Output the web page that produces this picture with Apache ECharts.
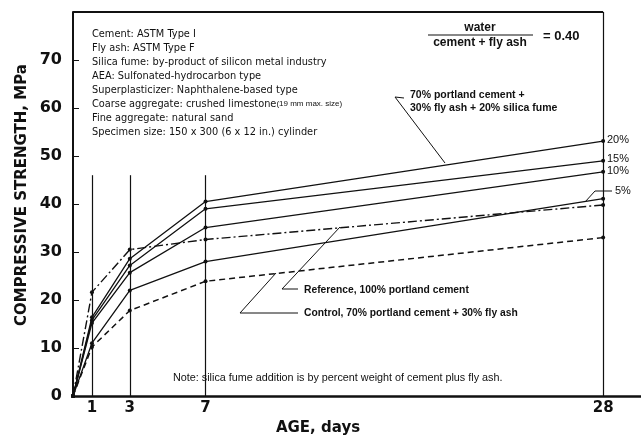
<!DOCTYPE html>
<html>
<head>
<meta charset="utf-8">
<script src="https://cdn.jsdelivr.net/npm/echarts@6/dist/echarts.min.js"></script>
<style>
  html, body { margin: 0; padding: 0; background: #fff; }
  #chart { width: 641px; height: 438px; }
</style>
</head>
<body>
<div id="chart"></div>
<script>
// age in days
const days = [0, 1, 3, 7, 28]

// compressive strength, MPa
const sf20 = [0, 16.4, 28.6, 40.5, 53.1]
const sf15 = [0, 15.8, 27.2, 39.0, 49.0]
const sf10 = [0, 15.2, 25.7, 35.1, 46.7]
const sf5 = [0, 11.0, 22.0, 28.0, 41.1]
const reference = [0, 21.6, 30.5, 32.6, 39.8]
const control = [0, 10.2, 17.8, 23.9, 33.0]

// axis labels
const dayTicks = [1, 3, 7, 28]
const guideDays = [1, 3, 7]
const guideTop = 46
const yMax = 80

const notes = [
  'Cement: ASTM Type I',
  'Fly ash: ASTM Type F',
  'Silica fume: by-product of silicon metal industry',
  'AEA: Sulfonated-hydrocarbon type',
  'Superplasticizer: Naphthalene-based type',
  '{a|Coarse aggregate: crushed limestone}{b|(19 mm max. size)}',
  'Fine aggregate: natural sand',
  'Specimen size: 150 x 300 (6 x 12 in.) cylinder'
]

const ink = '#111'
const pairs = arr => days.map((d, i) => [d, arr[i]])

const chart = echarts.init(document.getElementById('chart'))

function line(name, arr, type, width) {
  return {
    name: name,
    type: 'line',
    data: pairs(arr),
    symbol: 'circle',
    symbolSize: 4,
    itemStyle: { color: ink },
    lineStyle: { color: ink, width: width || 1.3, type: type || 'solid' },
    z: 3
  }
}

// guide lines at 1, 3, 7 days, full line at 28 days and the top border
const guides = guideDays.map(d => [{ coord: [d, 0] }, { coord: [d, guideTop] }])
guides.push([{ coord: [28, 0] }, { coord: [28, yMax] }])
guides.push([{ coord: [0, yMax], lineStyle: { width: 2 } }, { coord: [28, yMax] }])

const txt = (text, x, y, extra) => ({
  type: 'text',
  x: x, y: y,
  style: Object.assign({
    text: text,
    font: '10.5px "Liberation Sans"',
    fill: ink,
    verticalAlign: 'middle'
  }, extra || {})
})

const leader = pts => ({
  type: 'polyline',
  shape: { points: pts },
  style: { stroke: ink, lineWidth: 1, fill: null }
})

const noteFont = '9.8px "DejaVu Sans"'
const graphics = []
notes.forEach((n, i) => {
  graphics.push(txt(n, 92, 34 + i * 14, {
    font: noteFont,
    rich: {
      a: { font: noteFont, fill: ink },
      b: { font: '8px "Liberation Sans"', fill: ink }
    }
  }))
})

// water ratio
graphics.push(txt('water', 480, 28, { font: 'bold 12px "Liberation Sans"', align: 'center' }))
graphics.push({ type: 'line', shape: { x1: 428, y1: 35, x2: 533, y2: 35 }, style: { stroke: ink, lineWidth: 1.2 } })
graphics.push(txt('cement + fly ash', 480, 43, { font: 'bold 12px "Liberation Sans"', align: 'center' }))
graphics.push(txt('= 0.40', 543, 36, { font: 'bold 13px "Liberation Sans"' }))

// series annotations
graphics.push(txt('70% portland cement +', 410, 95, { font: 'bold 10.5px "Liberation Sans"' }))
graphics.push(txt('30% fly ash + 20% silica fume', 410, 108, { font: 'bold 10.5px "Liberation Sans"' }))
graphics.push(leader([[404, 98], [395, 97], [445, 163]]))
graphics.push(txt('Reference, 100% portland cement', 304, 290, { font: 'bold 10.3px "Liberation Sans"' }))
graphics.push(leader([[298, 289], [282, 289], [340, 227]]))
graphics.push(txt('Control, 70% portland cement + 30% fly ash', 304, 313, { font: 'bold 10.3px "Liberation Sans"' }))
graphics.push(leader([[298, 313], [240, 313], [276, 273]]))
graphics.push(txt('20%', 607, 140, { font: '11px "Liberation Sans"' }))
graphics.push(txt('15%', 607, 159, { font: '11px "Liberation Sans"' }))
graphics.push(txt('10%', 607, 171, { font: '11px "Liberation Sans"' }))
graphics.push(txt('5%', 615, 191, { font: '11px "Liberation Sans"' }))
graphics.push(leader([[612, 191], [595, 191], [585, 202]]))

graphics.push(txt('Note: silica fume addition is by percent weight of cement plus fly ash.', 173, 378, { font: '10.8px "Liberation Sans"' }))

// axis titles
graphics.push({
  type: 'text', x: 22, y: 195, rotation: Math.PI / 2,
  style: { text: 'COMPRESSIVE STRENGTH, MPa', font: 'bold 15px "DejaVu Sans"', fill: ink, align: 'center', verticalAlign: 'middle' }
})
graphics.push(txt('AGE, days', 318, 428, { font: 'bold 15px "DejaVu Sans"', align: 'center' }))

const option = {
  animation: false,
  backgroundColor: '#fff',
  grid: { left: 73, right: 0, top: 12, bottom: 42, containLabel: false },
  xAxis: {
    type: 'value',
    min: 0,
    max: 30,
    axisLine: { show: true, lineStyle: { color: ink, width: 2.5 } },
    axisTick: { show: false },
    splitLine: { show: false },
    axisLabel: {
      customValues: dayTicks,
      color: ink,
      fontFamily: 'DejaVu Sans',
      fontWeight: 'bold',
      fontSize: 15,
      margin: 5
    }
  },
  yAxis: {
    type: 'value',
    min: 0,
    max: yMax,
    interval: 10,
    axisLine: { show: true, lineStyle: { color: ink, width: 2 } },
    axisTick: { show: true, inside: true, length: 6, lineStyle: { color: ink, width: 1 } },
    splitLine: { show: false },
    axisLabel: {
      color: ink,
      fontFamily: 'DejaVu Sans',
      fontWeight: 'bold',
      fontSize: 16,
      margin: 11,
      formatter: v => (v >= yMax ? '' : v)
    }
  },
  series: [
    {
      type: 'line',
      data: [],
      markLine: {
        silent: true,
        symbol: 'none',
        label: { show: false },
        lineStyle: { color: ink, width: 1.2, type: 'solid' },
        data: guides
      }
    },
    line('20%', sf20),
    line('15%', sf15),
    line('10%', sf10),
    line('5%', sf5),
    line('Reference', reference, [9, 3, 2, 3], 1.4),
    line('Control', control, [6, 4], 1.5)
  ],
  graphic: graphics
}

chart.setOption(option)
</script>
</body>
</html>
